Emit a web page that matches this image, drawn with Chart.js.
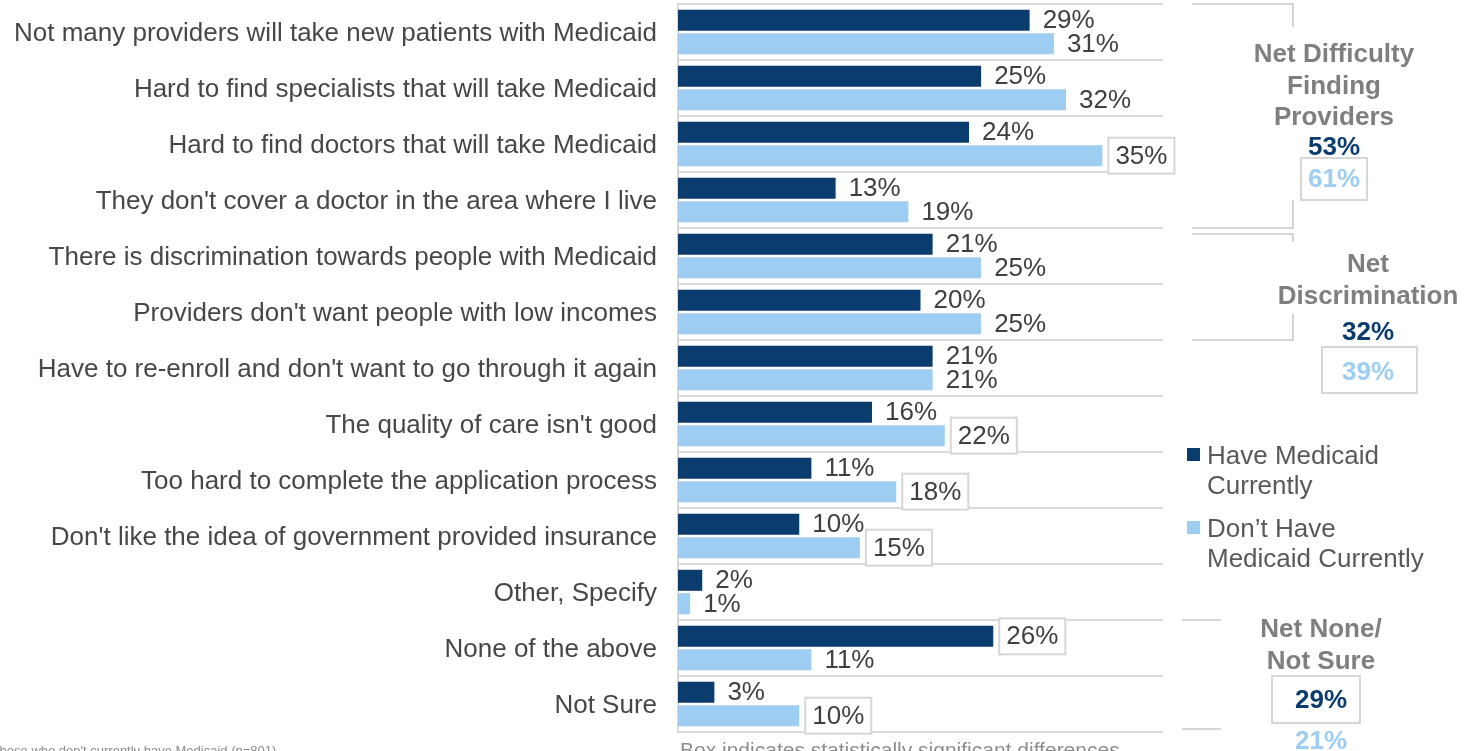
<!DOCTYPE html>
<html>
<head>
<meta charset="utf-8">
<script src="https://cdn.jsdelivr.net/npm/chart.js@4.4.1/dist/chart.umd.min.js"></script>
<style>
  html, body { margin: 0; padding: 0; background: #fff; }
  canvas { display: block; }
</style>
</head>
<body>
<canvas id="bar-chart" width="1475" height="751"></canvas>
<script>
// values
const categories = [
  "Not many providers will take new patients with Medicaid",
  "Hard to find specialists that will take Medicaid",
  "Hard to find doctors that will take Medicaid",
  "They don't cover a doctor in the area where I live",
  "There is discrimination towards people with Medicaid",
  "Providers don't want people with low incomes",
  "Have to re-enroll and don't want to go through it again",
  "The quality of care isn't good",
  "Too hard to complete the application process",
  "Don't like the idea of government provided insurance",
  "Other, Specify",
  "None of the above",
  "Not Sure"
];
const haveMedicaid = [29, 25, 24, 13, 21, 20, 21, 16, 11, 10, 2, 26, 3];
const dontHaveMedicaid = [31, 32, 35, 19, 25, 25, 21, 22, 18, 15, 1, 11, 10];
// true = boxed (statistically significant difference)
const sigHave = [false, false, false, false, false, false, false, false, false, false, false, true, false];
const sigDont = [false, false, true, false, false, false, false, true, true, true, false, false, true];
const seriesNames = ["Have Medicaid Currently", "Don\u2019t Have Medicaid Currently"];

const netTitles = [["Net Difficulty", "Finding", "Providers"], ["Net", "Discrimination"], ["Net None/", "Not Sure"]];
const netHave = [53, 32, 29];
const netDont = [61, 39, 21];
const netBoxHave = [false, false, true];
const netBoxDont = [true, true, false];

const DARK = '#0B3C6E';
const LIGHT = '#9DCDF1';
const FONT = '"Liberation Sans", Arial, sans-serif';

function box(ctx, x, y, w, h) {
  ctx.save();
  ctx.fillStyle = '#fff';
  ctx.fillRect(x, y, w, h);
  ctx.strokeStyle = '#d6d6d6';
  ctx.lineWidth = 2;
  ctx.strokeRect(x, y, w, h);
  ctx.restore();
}

const annotate = {
  id: 'annotate',
  afterDatasetsDraw(chart) {
    const ctx = chart.ctx;
    const area = chart.chartArea;
    const band = (area.bottom - area.top) / categories.length;
    const edge = i => area.top + i * band;

    // value labels next to bars
    ctx.save();
    ctx.font = '26px ' + FONT;
    ctx.textAlign = 'left';
    ctx.textBaseline = 'middle';
    chart.data.datasets.forEach((ds, di) => {
      const sig = di === 0 ? sigHave : sigDont;
      chart.getDatasetMeta(di).data.forEach((bar, i) => {
        const txt = ds.data[i] + '%';
        const x = bar.x + 13;
        const y = bar.y;
        if (sig[i]) {
          const w = ctx.measureText(txt).width;
          box(ctx, x - 7, y - 18, w + 14, 36);
        }
        ctx.fillStyle = '#404040';
        ctx.fillText(txt, x, y + 1);
      });
    });
    ctx.restore();

    // brackets
    ctx.save();
    ctx.strokeStyle = '#c8c8c8';
    ctx.lineWidth = 1.5;
    const line = (pts) => {
      ctx.beginPath();
      ctx.moveTo(pts[0][0], pts[0][1]);
      for (let k = 1; k < pts.length; k++) ctx.lineTo(pts[k][0], pts[k][1]);
      ctx.stroke();
    };
    let t = edge(0), b = edge(4);
    line([[1192, t], [1293, t], [1293, t + 23]]);
    line([[1293, b - 28], [1293, b], [1192, b]]);
    t = edge(4) + 6; b = edge(6);
    line([[1192, t], [1293, t], [1293, t + 8]]);
    line([[1293, b - 26], [1293, b], [1192, b]]);
    t = edge(11); b = edge(13) - 3;
    line([[1182, t], [1221, t]]);
    line([[1182, b], [1221, b]]);
    ctx.restore();

    // net summaries
    const blocks = [
      { cx: 1334, y0: 62, hy: 155, dy: 187, box: [1301, 158, 66, 42] },
      { cx: 1368, y0: 272, hy: 340, dy: 380, box: [1322, 347, 95, 46] },
      { cx: 1321, y0: 637, hy: 708, dy: 749, box: [1272, 676, 88, 47] }
    ];
    ctx.save();
    ctx.textAlign = 'center';
    ctx.textBaseline = 'alphabetic';
    blocks.forEach((bl, n) => {
      ctx.font = 'bold 26px ' + FONT;
      ctx.fillStyle = '#7f7f7f';
      netTitles[n].forEach((s, k) => ctx.fillText(s, bl.cx, bl.y0 + k * 31.5));
      if (netBoxHave[n] || netBoxDont[n]) box(ctx, bl.box[0], bl.box[1], bl.box[2], bl.box[3]);
      ctx.fillStyle = DARK;
      ctx.fillText(netHave[n] + '%', bl.cx, bl.hy);
      ctx.fillStyle = LIGHT;
      ctx.fillText(netDont[n] + '%', bl.cx, bl.dy);
    });
    ctx.restore();

    // legend
    ctx.save();
    ctx.font = '26px ' + FONT;
    ctx.textAlign = 'left';
    ctx.textBaseline = 'alphabetic';
    const legendLines = [["Have Medicaid", "Currently"], ["Don\u2019t Have", "Medicaid Currently"]];
    const legendTop = [464, 537];
    chart.data.datasets.forEach((ds, di) => {
      ctx.fillStyle = ds.backgroundColor;
      ctx.fillRect(1187, legendTop[di] - 16, 13, 13);
      ctx.fillStyle = '#595959';
      legendLines[di].forEach((s, k) => ctx.fillText(s, 1207, legendTop[di] + k * 30));
    });
    ctx.restore();

    // footnotes (cut off at the bottom edge)
    ctx.save();
    ctx.fillStyle = '#8c8c8c';
    ctx.textAlign = 'left';
    ctx.font = '13px ' + FONT;
    ctx.fillText("those who don't currently have Medicaid (n=801)", -4, 755);
    ctx.font = '21px ' + FONT;
    ctx.fillText("Box indicates statistically significant differences", 680, 757);
    ctx.restore();
  }
};

const ctx = document.getElementById('bar-chart').getContext('2d');
const barChart = new Chart(ctx, {
  type: 'bar',
  data: {
    labels: categories,
    datasets: [
      { label: seriesNames[0], data: haveMedicaid, backgroundColor: DARK },
      { label: seriesNames[1], data: dontHaveMedicaid, backgroundColor: LIGHT }
    ]
  },
  options: {
    indexAxis: 'y',
    responsive: false,
    animation: false,
    devicePixelRatio: 1,
    categoryPercentage: 0.836,
    barPercentage: 0.9,
    layout: { padding: { top: 4, bottom: 19, right: 312, left: 0 } },
    plugins: {
      legend: { display: false },
      tooltip: { enabled: false }
    },
    scales: {
      x: { display: false, min: 0, max: 40 },
      y: {
        grid: { color: '#d9d9d9', lineWidth: 2, drawTicks: false, offset: true },
        border: { display: true, color: '#d9d9d9', width: 2 },
        ticks: { color: '#474747', padding: 21, labelOffset: 2, font: { size: 26, family: FONT } },
        afterFit(scale) {
          scale.width = 678;
          scale.paddingTop = 0;
          scale.paddingBottom = 0;
        }
      }
    }
  },
  plugins: [annotate]
});
</script>
</body>
</html>
